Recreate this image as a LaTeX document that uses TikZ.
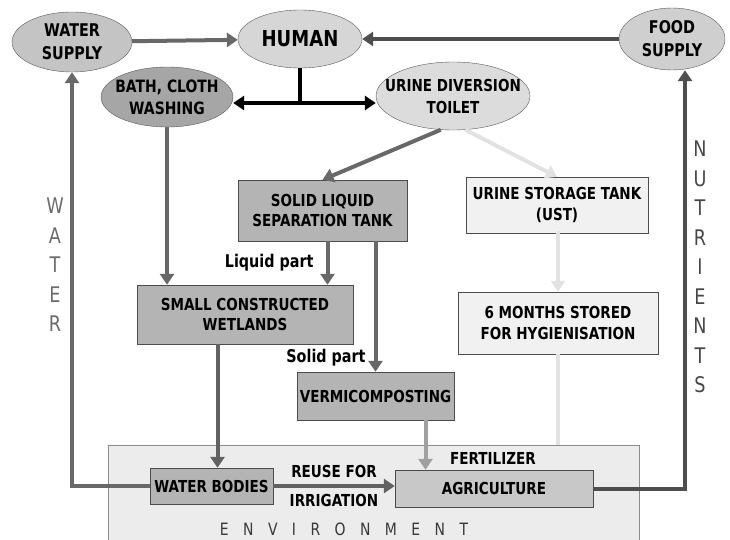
\documentclass[tikz,border=0pt]{standalone}
\usepackage{fontspec}
\setmainfont{DejaVu Sans}[FakeStretch=0.82]
\usepackage{xcolor}
\usepackage{tikz}
\usetikzlibrary{positioning,shapes,arrows.meta}

\definecolor{cwater}{HTML}{C4C4C4}
\definecolor{chuman}{HTML}{D6D6D6}
\definecolor{cbath}{HTML}{A6A6A6}
\definecolor{ctoilet}{HTML}{DCDCDC}
\definecolor{cfood}{HTML}{CFCFCF}
\definecolor{ctank}{HTML}{B4B4B4}
\definecolor{cagri}{HTML}{C8C8C8}
\definecolor{cpale}{HTML}{F1F1F1}
\definecolor{cenv}{HTML}{ECECEC}
\definecolor{flow}{HTML}{686868}
\definecolor{flowdark}{HTML}{4E4E4E}
\definecolor{flowmid}{HTML}{A0A0A0}
\definecolor{flowlight}{HTML}{E2E2E2}

\begin{document}
\begin{tikzpicture}[x=1pt, y=-1pt,
    ell/.style={ellipse, draw=black!65, inner sep=-22pt, align=center, font=\bfseries\fontsize{17.5}{23}\selectfont},
    box/.style={rectangle, draw=black!70, inner sep=0pt, align=center, font=\bfseries\fontsize{16.5}{20.5}\selectfont},
    line/.style={draw=flow, line width=4pt, -{Triangle[length=11pt, width=14pt]}},
    lbl/.style={inner sep=0pt, font=\bfseries\fontsize{16.5}{18}\selectfont},
    vert/.style={inner sep=0pt, align=center, font=\fontsize{21.5}{29.5}\selectfont}
]
\useasboundingbox (0,0) rectangle (730,540);

% Nodes
\node[ell, fill=cwater, minimum width=120pt, minimum height=60pt] (water) at (72,42) {WATER\\SUPPLY};
\node[ell, fill=chuman, minimum width=124pt, minimum height=58pt, font=\bfseries\fontsize{22}{24}\selectfont] (human) at (300,39) {HUMAN};
\node[ell, fill=cbath, minimum width=132pt, minimum height=60pt, font=\bfseries\fontsize{17}{22}\selectfont] (bath) at (167,97) {BATH, CLOTH\\WASHING};
\node[ell, fill=ctoilet, minimum width=154pt, minimum height=68pt, font=\bfseries\fontsize{16.5}{22}\selectfont] (toilet) at (453,96) {URINE DIVERSION\\TOILET};
\node[ell, fill=cfood, minimum width=106pt, minimum height=62pt] (food) at (672,39) {FOOD\\SUPPLY};

\node[box, fill=ctank, minimum width=169pt, minimum height=61pt] (tank) at (322.5,210.5) {SOLID LIQUID\\SEPARATION TANK};
\node[box, fill=cpale, minimum width=182pt, minimum height=56pt] (ust) at (557,205) {URINE STORAGE TANK\\(UST)};
\node[box, fill=cpale, minimum width=200pt, minimum height=62pt] (hyg) at (558,323) {6 MONTHS STORED\\FOR HYGIENISATION};
\node[box, fill=ctank, minimum width=216pt, minimum height=59pt] (wetlands) at (245,314.5) {SMALL CONSTRUCTED\\WETLANDS};
\node[box, fill=ctank, minimum width=157pt, minimum height=48pt] (vermi) at (375.5,396) {VERMICOMPOSTING};

% environment
\node[rectangle, draw=black!45, fill=cenv, minimum width=531pt, minimum height=100pt] (env) at (373.5,495) {};
\node[box, fill=ctank, minimum width=123pt, minimum height=36pt] (bodies) at (211.5,486) {WATER BODIES};
\node[box, fill=cagri, minimum width=198pt, minimum height=37pt] (agri) at (494,488.5) {AGRICULTURE};
\node[inner sep=0pt, text=black!78, font=\fontsize{17}{18}\selectfont\addfontfeature{LetterSpace=85}] (envlbl) at (344,529) {ENVIRONMENT};

% side labels
\node[vert, text=black!58] (waterlbl) at (55,265) {W\\A\\T\\E\\R};
\node[vert, text=black!72] (nutlbl) at (700,267) {N\\U\\T\\R\\I\\E\\N\\T\\S};

% Paths
\draw[line] (water) -- (human);
\draw[line, draw=flowdark] (food) -- (human);
\coordinate (split) at (300,103);
\draw[draw=black, line width=4pt] (human.south) -- (split);
\draw[draw=black, line width=4pt, {Triangle[length=11pt, width=14pt]}-{Triangle[length=11pt, width=14pt]}] (split -| bath.east) -- (split -| toilet.west);
\draw[line] (bath.south) -- (bath.south |- wetlands.north);
\draw[line] (toilet.250) -- (tank.north);
\draw[line, draw=flowlight] (toilet.290) -- (ust.north);
\draw[line] ([xshift=5pt]tank.south) -- node[lbl, left=12pt, font=\bfseries\fontsize{17.5}{18}\selectfont] (liquid) {Liquid part} ([xshift=5pt]tank.south |- wetlands.north);
\draw[line] (tank.south -| vermi.north) -- (vermi.north);
\node[lbl, font=\bfseries\fontsize{17.5}{18}\selectfont] (solid) at (326,358) {Solid part};
\draw[line, draw=flowlight] (ust.south) -- (hyg.south |- ust.south) -- (hyg.north);
\draw[draw=flowlight, line width=4pt] (hyg.south) -- (hyg.south |- env.north);
\draw[line, draw=flowmid] ([xshift=50pt]vermi.south) -- ([xshift=50pt]vermi.south |- agri.north);
\node[lbl] (fert) at (493,458) {FERTILIZER};
\draw[line, draw=black!62] ([xshift=6pt]bodies.north |- wetlands.south) -- ([xshift=6pt]bodies.north);
\draw[line, draw=black!62] (bodies.east) -- node[lbl, above=6pt] (reuse) {REUSE FOR} node[lbl, below=6pt] (irrig) {IRRIGATION} (bodies.east -| agri.west);
\draw[line] (bodies.west) -| (water.south);
\draw[line, draw=flowdark] (agri.east) -| ([xshift=13pt]food.south);

\end{tikzpicture}
\end{document}
